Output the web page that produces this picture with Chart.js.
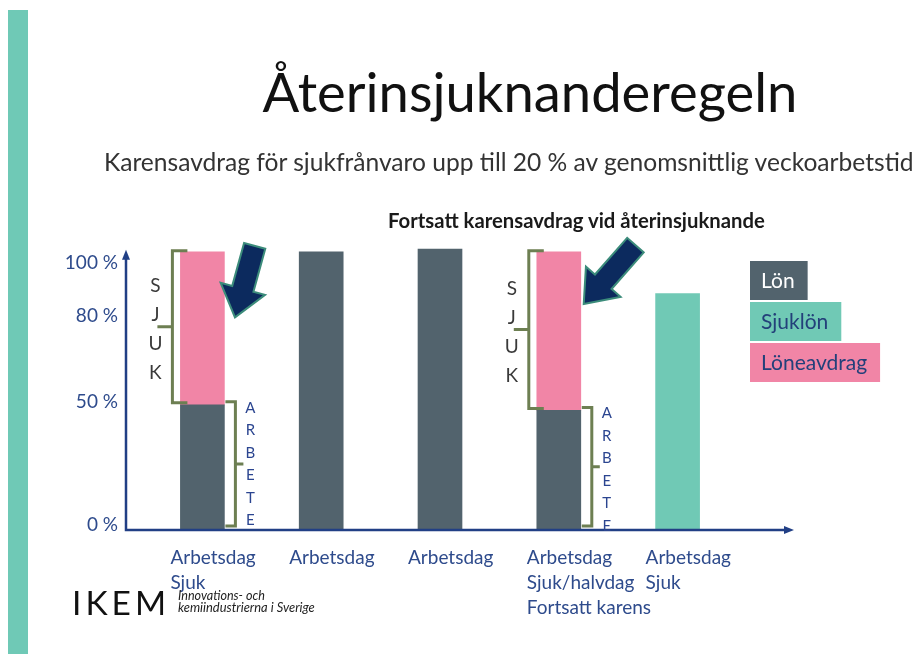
<!DOCTYPE html>
<html lang="sv">
<head>
<meta charset="utf-8">
<title>Återinsjuknanderegeln</title>
<script src="https://cdn.jsdelivr.net/npm/chart.js@4.4.1/dist/chart.umd.min.js"></script>
<style>
  html, body { margin: 0; padding: 0; background: #fff; }
  body { width: 918px; height: 654px; position: relative; overflow: hidden; font-family: Lato, 'Open Sans', sans-serif; }
  #stripe { position: absolute; left: 8px; top: 10px; width: 20px; bottom: 0; background: #6fc9b6; }
  #chart-wrap { position: absolute; left: 0; top: 0; width: 918px; height: 654px; }
  .txt { position: absolute; white-space: nowrap; line-height: 1; }
  #title { font-size: 52px; color: #111; }
  #subtitle { left: 104px; font-size: 21px; color: #333; }
  #note { left: 388px; font-size: 16px; font-weight: bold; color: #1a1a1a; }
  #logo { left: 72px; font-size: 30px; letter-spacing: 4px; color: #111; font-weight: 400; }
  #logo-sub1, #logo-sub2 { left: 178px; font-size: 10px; font-style: italic; color: #222; }
</style>
</head>
<body>
<div id="stripe"></div>
<div id="chart-wrap"><canvas id="mainChart"></canvas></div>
<div class="txt" id="title">Återinsjuknanderegeln</div>
<div class="txt" id="subtitle">Karensavdrag för sjukfrånvaro upp till 20 % av genomsnittlig veckoarbetstid</div>
<div class="txt" id="note">Fortsatt karensavdrag vid återinsjuknande</div>
<div class="txt" id="logo">IKEM</div>
<div class="txt" id="logo-sub1">Innovations- och</div>
<div class="txt" id="logo-sub2">kemiindustrierna i Sverige</div>

<script>
// --- DADOS DO GRÁFICO ---
const categories = [
    ['Arbetsdag', 'Sjuk'],
    'Arbetsdag',
    'Arbetsdag',
    ['Arbetsdag', 'Sjuk/halvdag', 'Fortsatt karens'],
    ['Arbetsdag', 'Sjuk']
];
const seriesNames = ['Lön', 'Sjuklön', 'Löneavdrag'];
const lonValues = [45, 100, 101, 43, null];
const sjuklonValues = [null, null, null, null, 85];
const loneavdragValues = [55, null, null, 57, null];
// etiketterna sitter inte linjärt i originalet
const yTickValues = [2, 46, 77, 96];
const yTickLabels = ['0 %', '50 %', '80 %', '100 %'];
const sickLetters = ['S', 'J', 'U', 'K'];
const workLetters = ['A', 'R', 'B', 'E', 'T', 'E'];

const colors = {
    lon: '#52636d',
    sjuklon: '#70c9b5',
    avdrag: '#f185a6',
    axis: '#213f85',
    tickText: '#2e4b8c',
    bracket: '#6d7f52',
    arrow: '#0c2a5e',
    arrowEdge: '#3c8c7b'
};

// --- TEXTER I HTML ---
function fitText(id, width) {
    const el = document.getElementById(id);
    const size = parseFloat(getComputedStyle(el).fontSize);
    const w = el.getBoundingClientRect().width;
    el.style.fontSize = (size * width / w) + 'px';
    return el;
}
function placeBaseline(el, baseline) {
    const size = parseFloat(el.style.fontSize || getComputedStyle(el).fontSize);
    el.style.top = (baseline - 0.887 * size) + 'px';
}

const titleEl = fitText('title', 535);
titleEl.style.left = (530 - 535 / 2) + 'px';
placeBaseline(titleEl, 112);
placeBaseline(fitText('subtitle', 810), 172);
placeBaseline(fitText('note', 377), 228);
placeBaseline(fitText('logo', 100), 616);
placeBaseline(fitText('logo-sub1', 87), 601);
placeBaseline(fitText('logo-sub2', 137), 612);

// --- ANOTAÇÕES ---
const arrowOffsets = [
    { tail: [30, -5], tip: [11, 64] },
    { tail: [54, -6], tip: [4, 51] }
];

function drawArrow(ctx, tail, tip) {
    const dx = tip[0] - tail[0], dy = tip[1] - tail[1];
    const len = Math.hypot(dx, dy);
    const ux = dx / len, uy = dy / len;
    const nx = -uy, ny = ux;
    const headLen = 27, headW = 21, shaftW = 10;
    const bx = tip[0] - ux * headLen, by = tip[1] - uy * headLen;
    ctx.beginPath();
    ctx.moveTo(tail[0] + nx * shaftW, tail[1] + ny * shaftW);
    ctx.lineTo(bx + nx * shaftW, by + ny * shaftW);
    ctx.lineTo(bx + nx * headW, by + ny * headW);
    ctx.lineTo(tip[0], tip[1]);
    ctx.lineTo(bx - nx * headW, by - ny * headW);
    ctx.lineTo(bx - nx * shaftW, by - ny * shaftW);
    ctx.lineTo(tail[0] - nx * shaftW, tail[1] - ny * shaftW);
    ctx.closePath();
    ctx.lineJoin = 'miter';
    ctx.strokeStyle = colors.arrowEdge;
    ctx.lineWidth = 4;
    ctx.stroke();
    ctx.fillStyle = colors.arrow;
    ctx.fill();
}

const annotationPlugin = {
    id: 'annotations',
    afterDatasetsDraw(chart) {
        const { ctx, chartArea, scales } = chart;
        const lonMeta = chart.getDatasetMeta(0);
        const avdragMeta = chart.getDatasetMeta(2);
        ctx.save();

        // eixos com setas
        const axisX = chartArea.left - 17;
        const topY = scales.y.getPixelForValue(100);
        const endX = chartArea.right + 55;
        ctx.strokeStyle = colors.axis;
        ctx.fillStyle = colors.axis;
        ctx.lineWidth = 2.5;
        ctx.beginPath();
        ctx.moveTo(axisX, topY + 6);
        ctx.lineTo(axisX, chartArea.bottom);
        ctx.lineTo(endX - 6, chartArea.bottom);
        ctx.stroke();
        ctx.beginPath();
        ctx.moveTo(axisX, topY - 2);
        ctx.lineTo(axisX - 4, topY + 8);
        ctx.lineTo(axisX + 4, topY + 8);
        ctx.fill();
        ctx.beginPath();
        ctx.moveTo(endX + 2, chartArea.bottom);
        ctx.lineTo(endX - 8, chartArea.bottom - 4);
        ctx.lineTo(endX - 8, chartArea.bottom + 4);
        ctx.fill();

        let arrowIdx = 0;
        loneavdragValues.forEach((v, i) => {
            if (v == null) return;
            const pink = avdragMeta.data[i];
            const dark = lonMeta.data[i];
            const left = pink.x - pink.width / 2;
            const right = pink.x + pink.width / 2;

            ctx.strokeStyle = colors.bracket;
            ctx.lineWidth = 3;
            ctx.lineJoin = 'miter';

            // klammer för SJUK
            const lx = left - 8;
            const sTop = pink.y - 1, sBot = pink.base - 2;
            const sMid = (sTop + sBot) / 2;
            ctx.beginPath();
            ctx.moveTo(left + 7, sTop);
            ctx.lineTo(lx, sTop);
            ctx.lineTo(lx, sBot);
            ctx.lineTo(left + 7, sBot);
            ctx.moveTo(lx, sMid);
            ctx.lineTo(lx - 15, sMid);
            ctx.stroke();

            // klammer för ARBETE
            const rx = right + 11;
            const aTop = dark.y - 3, aBot = dark.base - 4;
            const aMid = (aTop + aBot) / 2;
            ctx.beginPath();
            ctx.moveTo(right + 1, aTop);
            ctx.lineTo(rx, aTop);
            ctx.lineTo(rx, aBot);
            ctx.lineTo(right + 1, aBot);
            ctx.moveTo(rx, aMid);
            ctx.lineTo(rx + 8, aMid);
            ctx.stroke();

            ctx.textAlign = 'center';
            ctx.textBaseline = 'middle';
            ctx.fillStyle = '#3a3a3a';
            ctx.font = '19px Lato, sans-serif';
            sickLetters.forEach((ch, k) => {
                ctx.fillText(ch, lx - 17, sMid + (k - 1.5) * 29 + 3);
            });
            ctx.fillStyle = '#2b4590';
            ctx.font = '15px Lato, sans-serif';
            workLetters.forEach((ch, k) => {
                ctx.fillText(ch, rx + 15, dark.y + 3 + k * 22.5);
            });

            const off = arrowOffsets[arrowIdx++];
            if (off) {
                drawArrow(ctx,
                    [right + off.tail[0], pink.y + off.tail[1]],
                    [right + off.tip[0], pink.y + off.tip[1]]);
            }
        });
        ctx.restore();
    },
    afterDraw(chart) {
        // legenda em caixas coloridas
        const { ctx, chartArea } = chart;
        const textColors = ['#ffffff', '#23407a', '#23407a'];
        const x = chartArea.right + 13;
        let y = chartArea.top + 37;
        const h = 39;
        ctx.save();
        ctx.font = '21px Lato, sans-serif';
        ctx.textBaseline = 'middle';
        ctx.textAlign = 'left';
        chart.data.datasets.forEach((ds, i) => {
            const w = ctx.measureText(ds.label).width + 24;
            ctx.fillStyle = ds.backgroundColor;
            ctx.fillRect(x, y, w, h);
            ctx.fillStyle = textColors[i];
            ctx.fillText(ds.label, x + 11, y + h / 2 + 1);
            y += h + 2;
        });
        ctx.restore();
    }
};

Chart.defaults.font.family = 'Lato, sans-serif';

const ctx = document.getElementById('mainChart').getContext('2d');
new Chart(ctx, {
    type: 'bar',
    data: {
        labels: categories,
        datasets: [
            { label: seriesNames[0], data: lonValues, backgroundColor: colors.lon },
            { label: seriesNames[1], data: sjuklonValues, backgroundColor: colors.sjuklon },
            { label: seriesNames[2], data: loneavdragValues, backgroundColor: colors.avdrag }
        ]
    },
    options: {
        responsive: true,
        maintainAspectRatio: false,
        animation: false,
        datasets: { bar: { barThickness: 44 } },
        layout: { padding: { left: 0, right: 181, top: 224, bottom: 0 } },
        plugins: {
            legend: { display: false },
            tooltip: { enabled: false },
            title: { display: false }
        },
        scales: {
            x: {
                stacked: true,
                grid: { display: false },
                border: { display: false },
                ticks: {
                    color: colors.tickText,
                    font: { size: 19, lineHeight: 1.32 },
                    align: 'start',
                    labelOffset: -32,
                    padding: 7,
                    maxRotation: 0,
                    autoSkip: false
                },
                afterFit: (scale) => { scale.height = 124; }
            },
            y: {
                stacked: true,
                min: 0,
                max: 110,
                grid: { display: false, drawTicks: false },
                border: { display: false },
                ticks: {
                    color: colors.tickText,
                    font: { size: 19 },
                    padding: 25,
                    callback: (value, index) => yTickLabels[index]
                },
                afterBuildTicks: (scale) => {
                    scale.ticks = yTickValues.map(v => ({ value: v }));
                },
                afterFit: (scale) => { scale.width = 143; }
            }
        }
    },
    plugins: [annotationPlugin]
});
</script>
</body>
</html>
